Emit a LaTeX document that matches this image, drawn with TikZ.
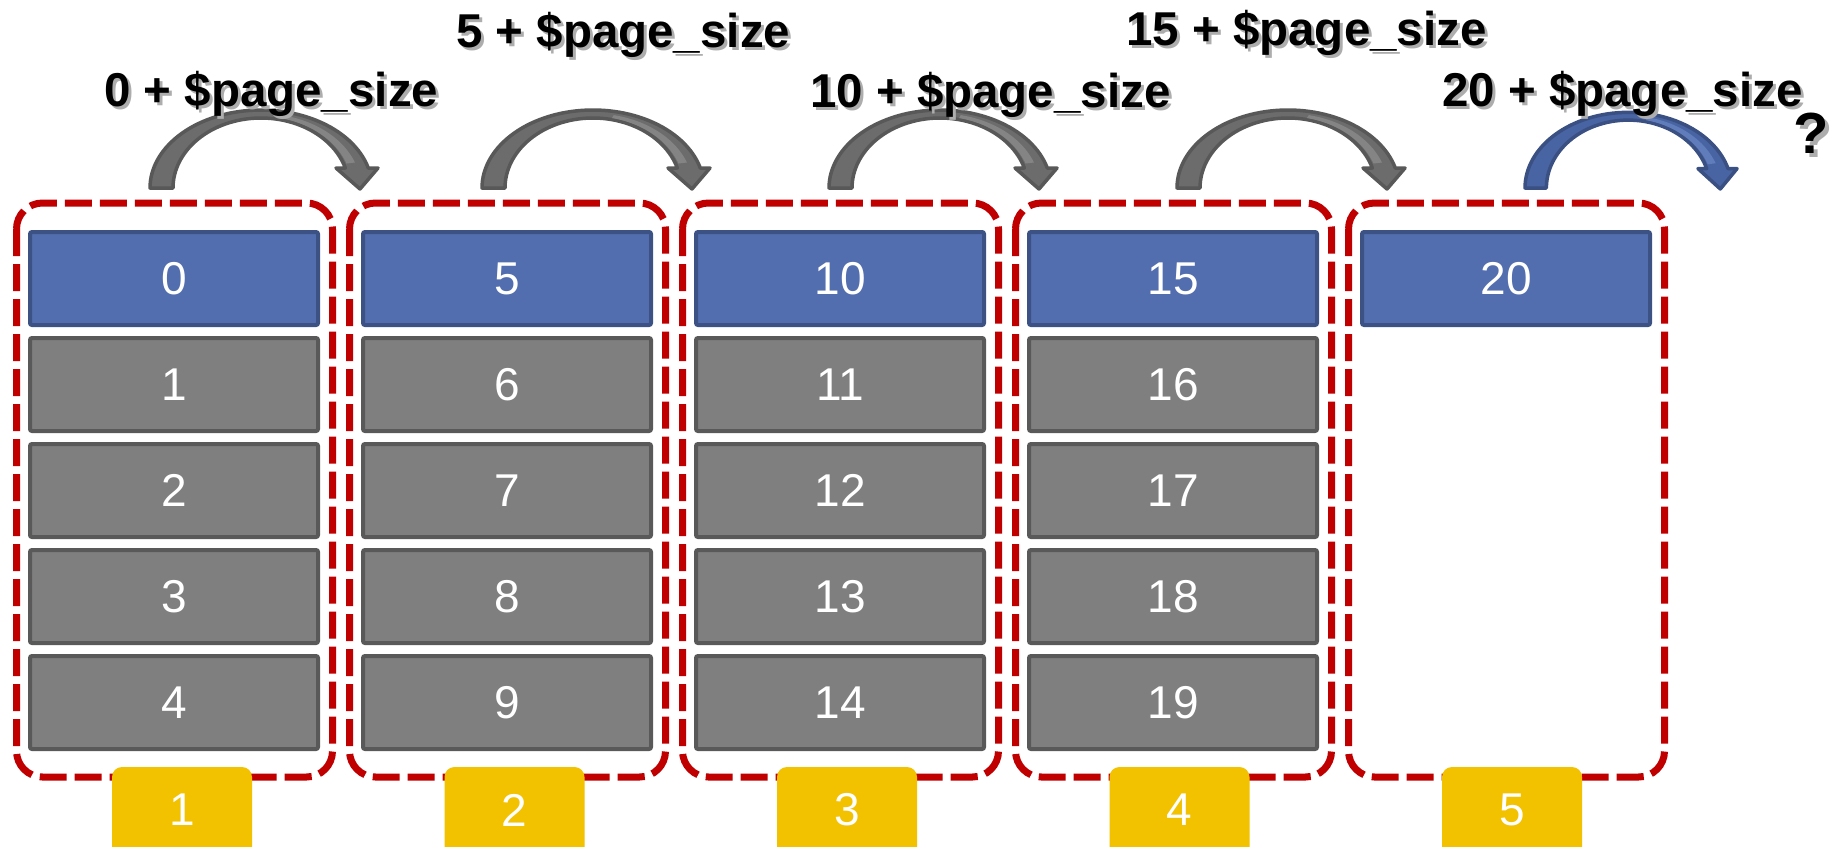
\documentclass[tikz,border=0pt]{standalone}
\usepackage{fontspec}
\setmainfont{Liberation Sans}
\definecolor{bfill}{RGB}{82,110,175}
\definecolor{bline}{RGB}{60,82,132}
\definecolor{gfill}{RGB}{127,127,127}
\definecolor{gline}{RGB}{89,89,89}
\definecolor{dred}{RGB}{192,0,0}
\definecolor{yfill}{RGB}{242,193,0}
\definecolor{afill}{RGB}{108,108,108}
\definecolor{aline}{RGB}{88,88,88}
\definecolor{astripe}{RGB}{132,132,132}
\definecolor{bafill}{RGB}{72,100,163}
\definecolor{baline}{RGB}{58,80,130}
\definecolor{bastripe}{RGB}{96,124,186}
\newcommand\numfont{\fontsize{46}{50}\selectfont}
\newcommand\labfont{\fontsize{47.5}{52}\selectfont\bfseries}
\newcommand\qfont{\fontsize{58}{62}\selectfont\bfseries}
% arc arrow: #1 stem-left x, #2 xscale, #3 yscale, #4 body style, #5 stripe colour
\newcommand\arcarrow[5]{%
  \begin{scope}[shift={(#1,188)}, xscale=#2, yscale=#3]
    \filldraw[#4] (0,0) -- plot[domain=180:14.8, samples=60] ({111+111*cos(\x)},{-78*sin(\x)})
      -- (228,-20) -- (210,1) -- (186,-20) -- (195.3,-20)
      -- plot[domain=16.6:180, samples=60] ({111+88*cos(\x)},{-70*sin(\x)}) -- cycle;
    \fill[#5] plot[domain=78:20, samples=30] ({111+100*cos(\x)},{-74.5*sin(\x)})
      -- plot[domain=20:78, samples=30] ({111+91*cos(\x)},{-71.5*sin(\x)}) -- cycle;
  \end{scope}}
\begin{document}
\begin{tikzpicture}[x=1pt,y=-1pt,
  blk/.style={draw, line width=4pt, minimum width=288pt, minimum height=93pt,
    inner sep=0pt, rounded corners=2pt, text=white, font=\numfont},
  blueblk/.style={blk, fill=bfill, draw=bline},
  grayblk/.style={blk, fill=gfill, draw=gline},
  dbox/.style={draw=dred, line width=7pt, dash pattern=on 27pt off 8pt, rounded corners=26pt},
  ybox/.style={fill=yfill, rounded corners=10pt},
  ylab/.style={text=white, font=\numfont, inner sep=0pt},
  lab/.style={anchor=base west, inner sep=0pt, font=\labfont, text=black},
  labsh/.style={lab, text=black!32},
  qlab/.style={anchor=base west, inner sep=0pt, font=\qfont, text=black},
  qsh/.style={qlab, text=black!32},
  garrow/.style={fill=afill, draw=aline, line width=3.5pt, line join=round},
  barrow/.style={fill=bafill, draw=baline, line width=3.5pt, line join=round}
]
\clip (0,0) rectangle (1844,846);
\fill[white] (0,0) rectangle (1844,846);

% dashed page frames and yellow page numbers
\foreach \i in {0,...,4}{
  \draw[dbox] ({16.5+333*\i},203) rectangle ({332.5+333*\i},777);
  \fill[ybox] ({112+332.5*\i},767) rectangle ({252+332.5*\i},900);
  \pgfmathtruncatemacro\p{\i+1}
  \node[ylab] (y\p) at ({182+332.5*\i},810) {\p};
}

% blue first rows
\foreach \i in {0,...,4}{
  \pgfmathtruncatemacro\n{5*\i}
  \node[blueblk] (b\n) at ({174+333*\i},278.5) {\n};
}
% gray rows
\foreach \i in {0,...,3}{
  \foreach \j in {1,...,4}{
    \pgfmathtruncatemacro\n{5*\i+\j}
    \node[grayblk] (b\n) at ({174+333*\i},{278.5+106*\j}) {\n};
  }
}

% arc arrows
\arcarrow{150}{1}{1}{garrow}{astripe}
\arcarrow{482}{1}{1}{garrow}{astripe}
\arcarrow{829}{1}{1}{garrow}{astripe}
\arcarrow{1177}{1}{1}{garrow}{astripe}
\arcarrow{1525}{0.93}{0.97}{barrow}{bastripe}

% labels with soft shadow
\node[labsh] (l1s) at (107,109) {0 + \$page\_size};
\node[lab]   (l1)  at (104,106) {0 + \$page\_size};
\node[labsh] (l2s) at (459,50)  {5 + \$page\_size};
\node[lab]   (l2)  at (456,47)  {5 + \$page\_size};
\node[labsh] (l3s) at (813,110) {10 + \$page\_size};
\node[lab]   (l3)  at (810,107) {10 + \$page\_size};
\node[labsh] (l4s) at (1129,48) {15 + \$page\_size};
\node[lab]   (l4)  at (1126,45) {15 + \$page\_size};
\node[labsh] (l5s) at (1445,109) {20 + \$page\_size};
\node[lab]   (l5)  at (1442,106) {20 + \$page\_size};
\node[qsh]   (qs)  at (1797,157) {?};
\node[qlab]  (q)   at (1793,153) {?};
\end{tikzpicture}
\end{document}
